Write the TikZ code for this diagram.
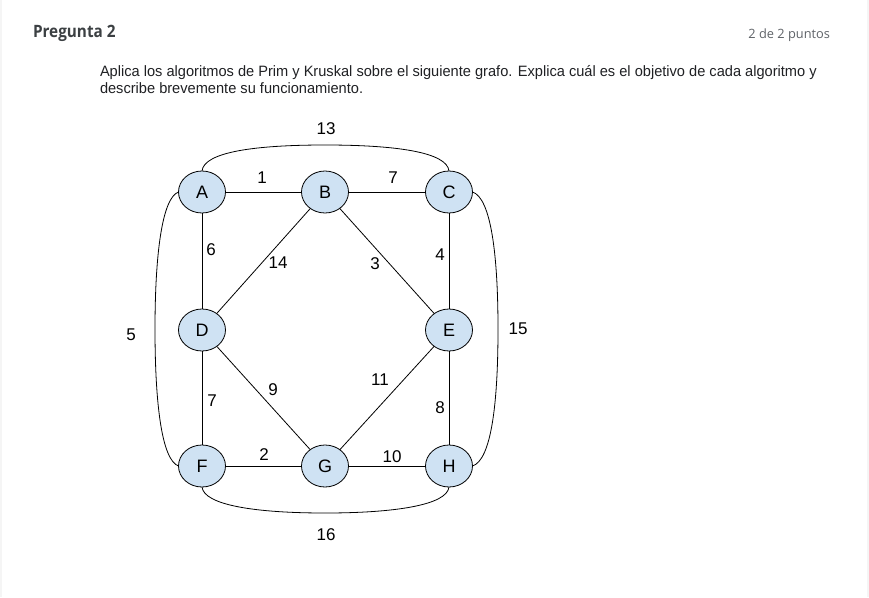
\documentclass[tikz,border=0pt]{standalone}
\usepackage{fontspec}
\setmainfont{Liberation Sans}
\newfontfamily\opensans{Open Sans}
\usetikzlibrary{shapes.geometric}
\definecolor{vfill}{HTML}{CFE2F3}
\definecolor{hdr}{HTML}{3C4043}
\definecolor{qtext}{HTML}{202124}
\definecolor{sub}{HTML}{5F6368}
\begin{document}
\begin{tikzpicture}[x=1pt,y=-1pt,
  every node/.style={inner sep=0pt,outer sep=0pt},
  vertex/.style={ellipse,draw=black,line width=0.8pt,fill=vfill,minimum width=47pt,minimum height=42pt,font=\fontsize{18}{18}\selectfont},
  edge/.style={draw=black,line width=0.8pt},
  elabel/.style={font=\fontsize{17}{17}\selectfont,text=black}]
\useasboundingbox (0,0) rectangle (869,597);
\fill[white] (0,0) rectangle (869,597);
\fill[black!4] (0,0) rectangle (2,597);
\fill[black!4] (867,0) rectangle (869,597);

\node[anchor=base west,text=hdr,font=\opensans\bfseries\fontsize{17}{17}\selectfont] (title) at (33,37.5) {\scalebox{0.9}[1]{Pregunta 2}};
\node[anchor=base east,text=sub,font=\opensans\fontsize{12.8}{12.8}\selectfont] (pts) at (830,38.5) {2 de 2 puntos};
\node[anchor=base west,text=qtext,font=\fontsize{15}{15}\selectfont] (q1) at (100,76) {\scalebox{0.974}[1]{Aplica los algoritmos de Prim y Kruskal sobre el siguiente grafo. Explica cuál es el objetivo de cada algoritmo y}};
\node[anchor=base west,text=qtext,font=\fontsize{15}{15}\selectfont] (q2) at (100,93) {\scalebox{0.974}[1]{describe brevemente su funcionamiento.}};

\node[vertex] (A) at (202,192) {A};
\node[vertex] (B) at (325,192) {B};
\node[vertex] (C) at (449,192) {C};
\node[vertex] (D) at (202,330) {D};
\node[vertex] (E) at (449,330) {E};
\node[vertex] (F) at (202,466) {F};
\node[vertex] (G) at (325,466) {G};
\node[vertex] (H) at (449,466) {H};

\draw[edge] (A) -- (B);
\draw[edge] (B) -- (C);
\draw[edge] (A) -- (D);
\draw[edge] (B) -- (D);
\draw[edge] (B) -- (E);
\draw[edge] (C) -- (E);
\draw[edge] (D) -- (F);
\draw[edge] (D) -- (G);
\draw[edge] (E) -- (G);
\draw[edge] (E) -- (H);
\draw[edge] (F) -- (G);
\draw[edge] (G) -- (H);
\coordinate (top) at (325,145);
\coordinate (left) at (155,329);
\coordinate (right) at (498,329);
\coordinate (bot) at (325,513);
\draw[edge] (A.north) .. controls (204,152) and (255,145) .. (top) .. controls (395,145) and (447,152) .. (C.north);
\draw[edge] (A.west) .. controls (162,198) and (155,255) .. (left) .. controls (155,405) and (162,460) .. (F.west);
\draw[edge] (C.east) .. controls (491,198) and (498,255) .. (right) .. controls (498,405) and (491,460) .. (H.east);
\draw[edge] (F.south) .. controls (204,505) and (255,513) .. (bot) .. controls (395,513) and (447,505) .. (H.south);

\node[elabel] (l1) at (262,178) {1};
\node[elabel] (l2) at (393,178) {7};
\node[elabel] (l3) at (326,129) {13};
\node[elabel] (l4) at (211,250) {6};
\node[elabel] (l5) at (278,263) {14};
\node[elabel] (l6) at (375,264) {3};
\node[elabel] (l7) at (440,255) {4};
\node[elabel] (l8) at (131,335) {5};
\node[elabel] (l9) at (518,329) {15};
\node[elabel] (l10) at (212,401) {7};
\node[elabel] (l11) at (273,390) {9};
\node[elabel] (l12) at (380,380) {11};
\node[elabel] (l13) at (440,408) {8};
\node[elabel] (l14) at (264,455) {2};
\node[elabel] (l15) at (392,457) {10};
\node[elabel] (l16) at (326,535) {16};
\end{tikzpicture}
\end{document}
